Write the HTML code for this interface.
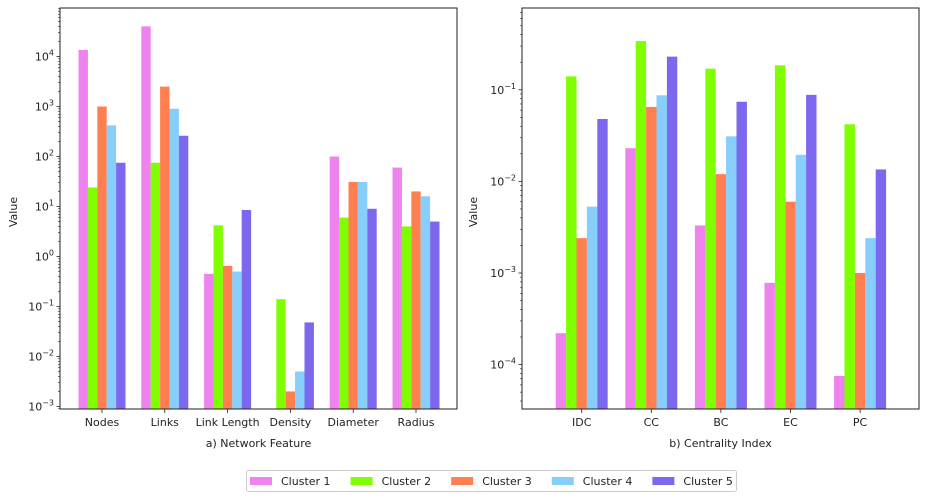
<!DOCTYPE html>
<html><head><meta charset="utf-8"><style>
body{margin:0;background:#fff;}
svg{display:block;font-family:"DejaVu Sans","Liberation Sans",sans-serif;}
</style></head><body>
<svg id="chart" width="927" height="499" viewBox="0 0 927 499"></svg>
<script>
const seriesNames=["Cluster 1","Cluster 2","Cluster 3","Cluster 4","Cluster 5"];
const colors=["#ee82ee","#7fff00","#ff7f50","#87cefa","#7b68ee"];
const leftCats=["Nodes","Links","Link Length","Density","Diameter","Radius"];
const leftC1=[13500,40000,0.45,null,100,60];
const leftC2=[24,75,4.2,0.14,6,4];
const leftC3=[1000,2500,0.65,0.002,31,20];
const leftC4=[420,900,0.5,0.005,31,16];
const leftC5=[75,260,8.5,0.048,9,5];
const rightCats=["IDC","CC","BC","EC","PC"];
const rightC1=[2.2e-4,0.023,0.0033,7.8e-4,7.5e-5];
const rightC2=[0.14,0.34,0.17,0.185,0.042];
const rightC3=[0.0024,0.065,0.012,0.006,0.001];
const rightC4=[0.0053,0.087,0.031,0.0195,0.0024];
const rightC5=[0.048,0.23,0.074,0.088,0.0135];
const leftTicks=[-3,-2,-1,0,1,2,3,4];
const rightTicks=[-4,-3,-2,-1];

const NS="http://www.w3.org/2000/svg";
const svg=document.getElementById('chart');
function mk(tag,attrs,parent){const e=document.createElementNS(NS,tag);for(const k in attrs)e.setAttribute(k,attrs[k]);(parent||svg).appendChild(e);return e;}

function drawPanel(o){
  const g=mk('g',{});
  
  
  const y=v=>o.y0+(o.yBot-Math.log10(v))*o.ppd;
  const yBase=409;
  const n=o.cats.length;
  const xc=i=>o.firstX+i*o.spacing;
  o.series.forEach((vals,j)=>{
    vals.forEach((v,i)=>{
      if(v==null||v<=0)return;
      const yy=Math.max(y(v),8);
      const r=mk('rect',{x:xc(i)+(j-2.5)*o.bw,y:yy,width:o.bw,height:yBase-yy,fill:colors[j]},g);
      
      
    });
  });
  // axes box
  const box=mk('rect',{x:o.x0,y:8,width:o.x1-o.x0,height:401,fill:'none',stroke:'#222','stroke-width':1},g);
  
  
  // y ticks
  for(let d=Math.floor(o.yBot)-1;d<=Math.ceil(o.yTop);d++){
    for(let m=1;m<10;m++){
      const v=m*Math.pow(10,d);const yy=y(v);
      if(yy<8||yy>409)continue;
      mk('line',{x1:o.x0,x2:o.x0-(m==1?3.5:2),y1:yy,y2:yy,stroke:'#222','stroke-width':m==1?0.8:0.6},g);
    }
  }
  o.ticks.forEach(t=>{
    const yy=y(Math.pow(10,t));
    const tx=mk('text',{x:o.x0-6,y:yy+4,'text-anchor':'end','font-size':11,fill:'#222'},g);
    
    
    tx.innerHTML='10<tspan dy="-5" font-size="8">'+(t<0?'\u2212'+(-t):t)+'</tspan>';
  });
  o.cats.forEach((c,i)=>{
    mk('line',{x1:xc(i),x2:xc(i),y1:409,y2:413,stroke:'#222','stroke-width':0.8},g);
    const t=mk('text',{x:xc(i),y:426,'text-anchor':'middle','font-size':11,fill:'#222'},g);
    
    
    t.textContent=c;
  });
  const xt=mk('text',{x:(o.x0+o.x1)/2,y:447,'text-anchor':'middle','font-size':11,fill:'#222'},g);
  
  
  xt.textContent=o.title;
  const yl=mk('text',{x:0,y:0,transform:'translate('+o.ylx+',212) rotate(-90)','text-anchor':'middle','font-size':11,fill:'#222'},g);
  
  
  yl.textContent='Value';
}
drawPanel({name:'network-feature-panel',cats:leftCats,series:[leftC1,leftC2,leftC3,leftC4,leftC5],x0:60,x1:457,y0:409,yBot:-3.05,yTop:4.97,ppd:50,firstX:102,spacing:62.8,bw:9.4,ticks:leftTicks,title:'a) Network Feature',ylx:17});
drawPanel({name:'centrality-index-panel',cats:rightCats,series:[rightC1,rightC2,rightC3,rightC4,rightC5],x0:522,x1:919,y0:409,yBot:-4.485,yTop:-0.1,ppd:91.6,firstX:581.7,spacing:69.6,bw:10.4,ticks:rightTicks,title:'b) Centrality Index',ylx:477});

// legend
const lg=mk('g',{});


mk('rect',{x:246.5,y:470.5,width:490,height:21,rx:2,fill:'#fff',stroke:'#ccc'},lg);
seriesNames.forEach((s,j)=>{
  const e=mk('g',{},lg);
  
  
  mk('rect',{x:250+j*100.6,y:477,width:22,height:8,fill:colors[j]},e);
  const t=mk('text',{x:281+j*100.6,y:485,'font-size':11,fill:'#222'},e);
  t.textContent=s;
});
</script>
</body></html>
